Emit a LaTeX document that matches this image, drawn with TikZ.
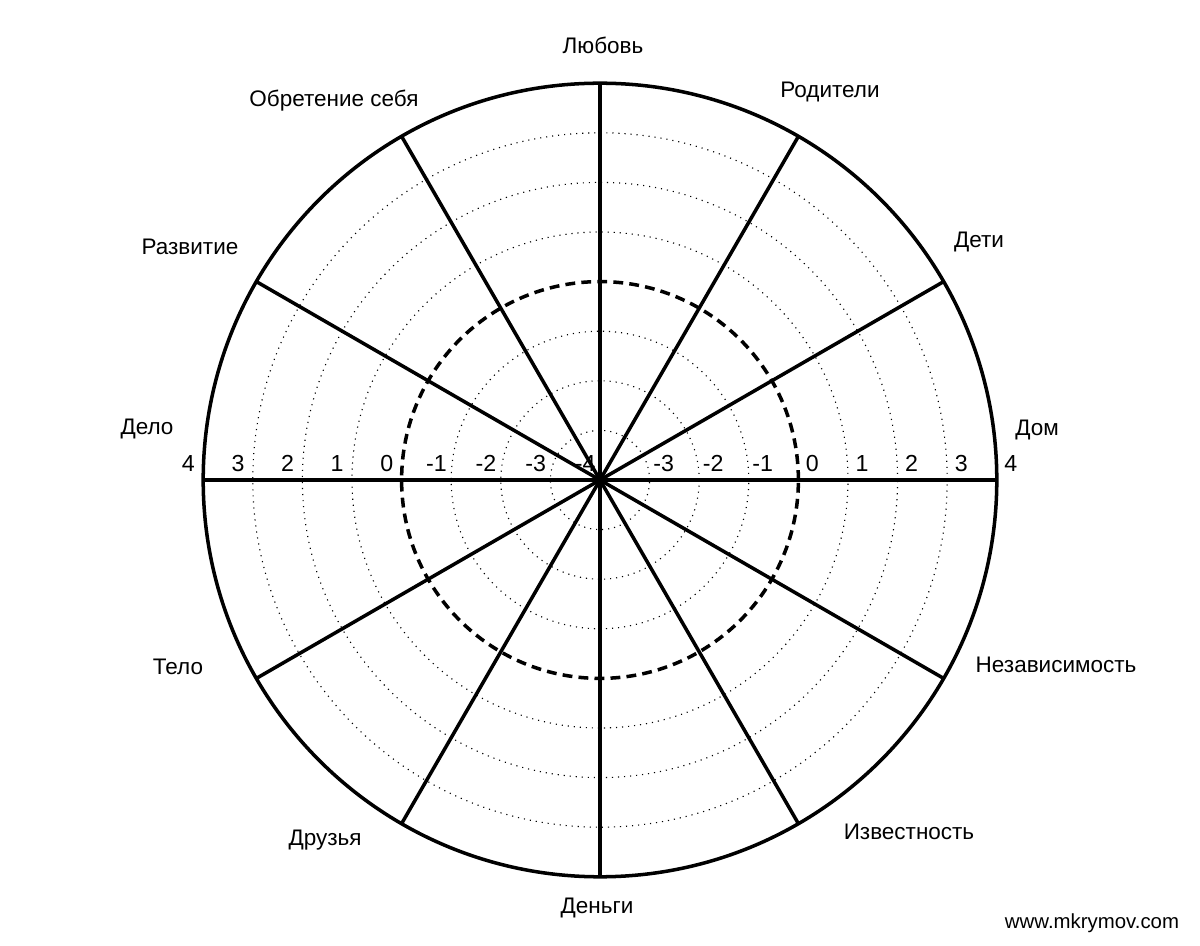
\documentclass[tikz,border=0pt]{standalone}
\usepackage{fontspec}
\setmainfont{Liberation Sans}
\usepackage{tikz}
\usetikzlibrary{calc}

\tikzset{
  rim/.style={line width=2.5pt},
  spoke/.style={line width=2.5pt},
  ring/.style={line width=0.8pt, dash pattern=on 0.8pt off 3.5pt},
  zeroring/.style={line width=2.5pt, dash pattern=on 7pt off 4.4pt},
  sector/.style={font=\fontsize{16}{19}\selectfont, anchor=base},
  scalenum/.style={font=\fontsize{16.5}{19}\selectfont, anchor=base},
  site/.style={font=\fontsize{14.5}{17}\selectfont, anchor=base}
}

\begin{document}
\begin{tikzpicture}
    \useasboundingbox (-15,-11.65) rectangle (15,12);
    \def\stp{1.24}
    \coordinate (c) at (0,0);

    % Dotted rings
    \foreach \k in {1,2,3,5,6,7}
      \draw[ring] (c) circle ({\k*\stp});

    % Zero ring
    \draw[zeroring] (c) circle ({4*\stp});

    % Outer rim
    \draw[rim] (c) circle ({8*\stp});

    % Spokes every 30 degrees
    \foreach \a in {0,30,...,330}
      \draw[spoke] (c) -- (\a:{8*\stp});

    % Scale numbers, left half
    \foreach \v [count=\k] in {-4,...,4}
      \node[scalenum] (numl\k) at ({-(\v+4)*\stp-0.37},0.2) {\v};

    % Scale numbers, right half
    \foreach \v [count=\k] in {-3,...,4}
      \node[scalenum] (numr\k) at ({(\v+4)*\stp+0.35},0.2) {\v};

    % Sector labels, clockwise from the top
    \node[sector] (love)    at (0.075,10.65)   {Любовь};
    \node[sector] (parents) at (5.75,9.55)     {Родители};
    \node[sector] (kids)    at (9.475,5.8)     {Дети};
    \node[sector] (home)    at (10.925,1.1)    {Дом};
    \node[sector] (freedom) at (11.4,-4.825)   {Независимость};
    \node[sector] (fame)    at (7.725,-8.975)  {Известность};
    \node[sector] (money)   at (-0.075,-10.825){Деньги};
    \node[sector] (friends) at (-6.875,-9.125) {Друзья};
    \node[sector] (body)    at (-10.55,-4.85)  {Тело};
    \node[sector] (work)    at (-11.325,1.125) {Дело};
    \node[sector] (growth)  at (-10.25,5.625)  {Развитие};
    \node[sector] (self)    at (-6.65,9.325)   {Обретение себя};

    % Site mark
    \node[site] (url) at (12.3,-11.2) {www.mkrymov.com};
\end{tikzpicture}
\end{document}
